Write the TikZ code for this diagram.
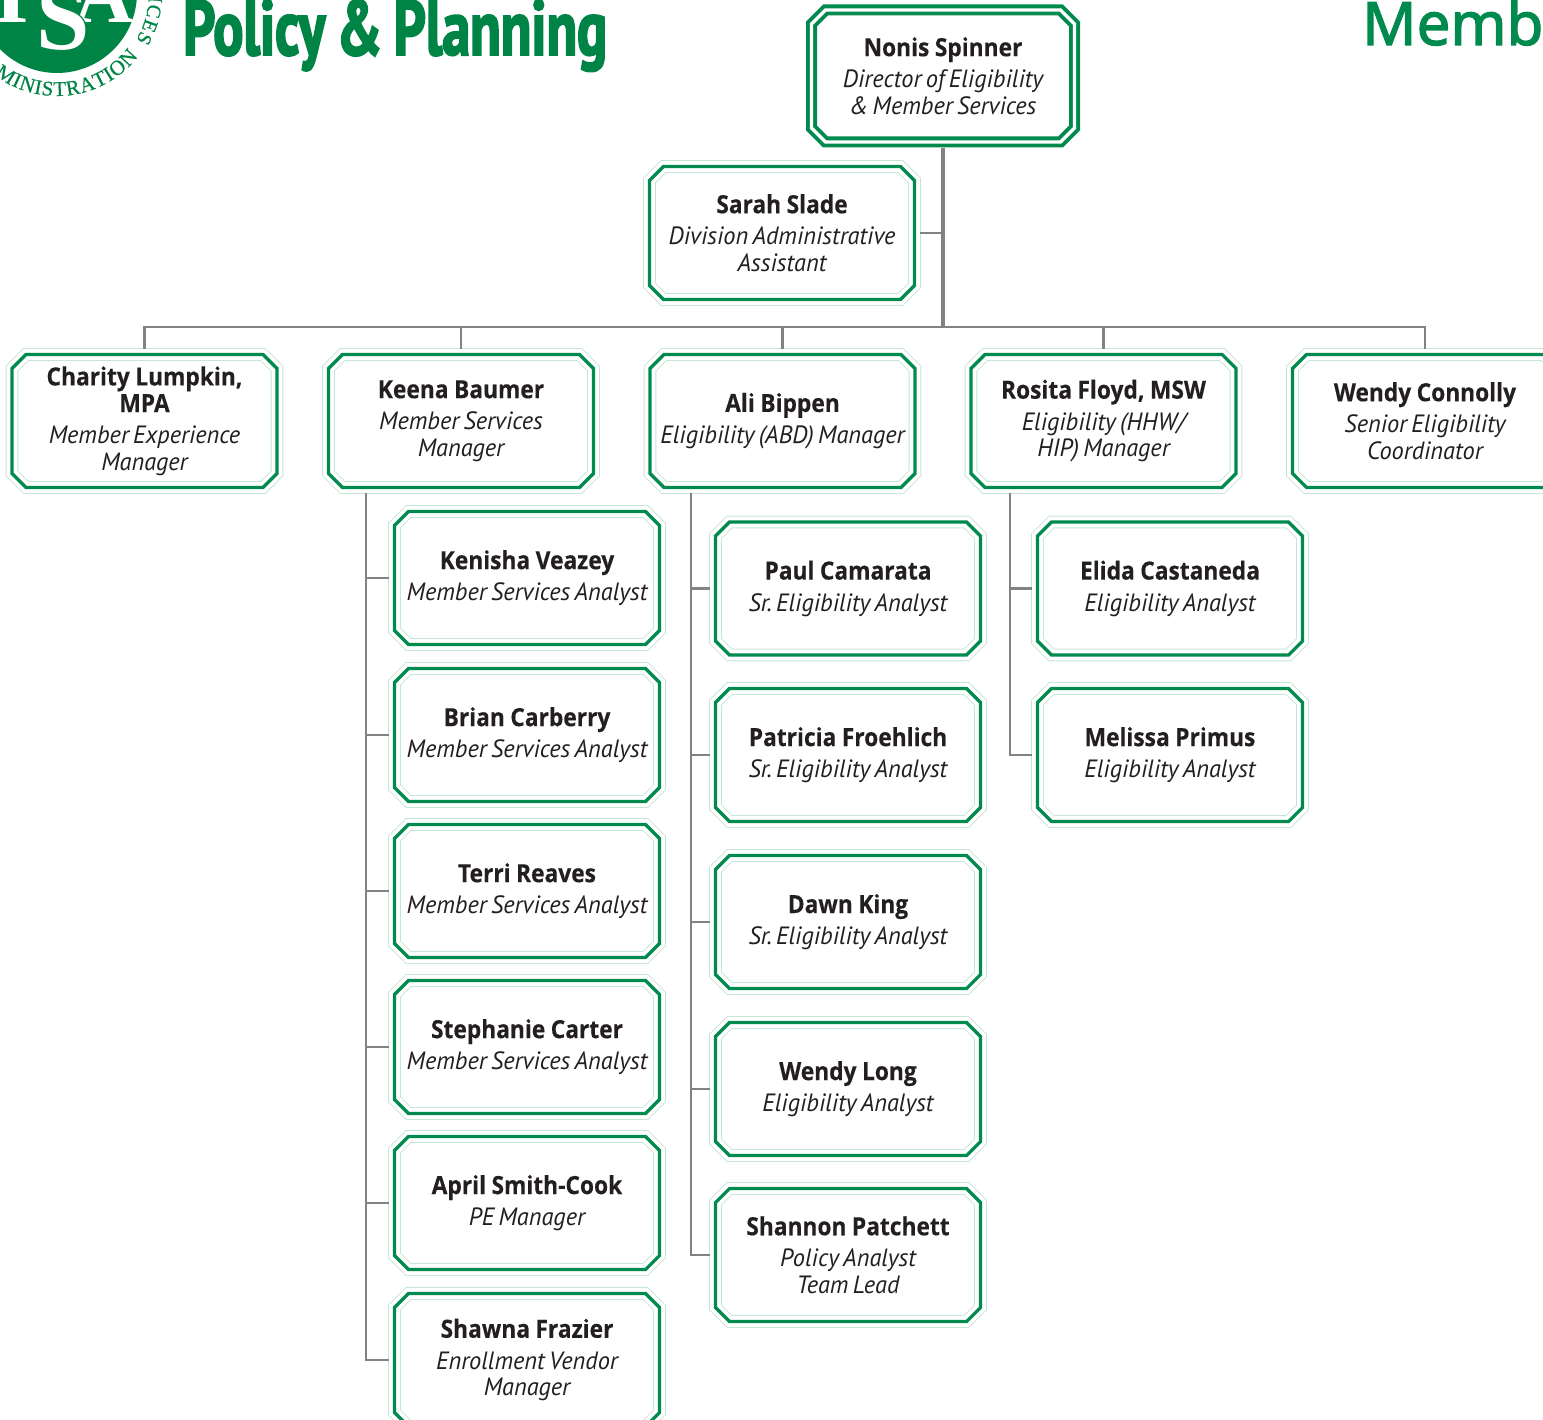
\documentclass[tikz,border=0pt]{standalone}
\usepackage{fontspec}
\usetikzlibrary{shapes.misc,decorations.text}
\setmainfont{PT Sans}[ItalicFeatures={FakeStretch=0.975},BoldFont={Open Sans Bold},BoldFeatures={FakeStretch=0.91,FakeBold=0.3}]
\newfontfamily\headfont[FakeStretch=0.72,FakeBold=2.4,WordSpace=0.8]{PT Sans Bold}
\newfontfamily\memfont[FakeBold=2]{Noto Sans}
\newfontfamily\sealfont{Liberation Serif}
\newfontfamily\sealhalo[FakeBold=5]{Liberation Serif}
\newfontfamily\sealring[FakeBold=0.5]{Liberation Serif}
\definecolor{hsagreen}{HTML}{008A4E}
\definecolor{headgreen}{HTML}{008445}
\definecolor{palegreen}{HTML}{C5E5D6}
\definecolor{linegray}{HTML}{808285}
\definecolor{inktext}{HTML}{231F20}
\frenchspacing
\tikzset{
  orgbox/.style={chamfered rectangle,chamfered rectangle xsep=7pt,chamfered rectangle ysep=7pt,
    chamfered rectangle corners={north west,north east,south west,south east},
    text width=250pt,minimum width=265pt,minimum height=133pt,inner sep=0pt,outer sep=5.5pt,align=center,
    text=inktext,font=\fontsize{25}{26.6}\selectfont\frenchspacing,
    preaction={fill=white},
    preaction={draw=palegreen,line width=12.6pt},
    preaction={draw=white,line width=10.8pt},
    draw=hsagreen,line width=3.2pt},
  topbox/.style={chamfered rectangle,chamfered rectangle xsep=7pt,chamfered rectangle ysep=7pt,
    chamfered rectangle corners={north west,north east,south west,south east},
    text width=248pt,minimum width=263pt,minimum height=132pt,inner sep=0pt,outer sep=6pt,align=center,
    text=inktext,font=\fontsize{25}{26.6}\selectfont\frenchspacing,
    preaction={fill=white},
    preaction={draw=hsagreen,line width=11pt},
    preaction={draw=white,line width=3.4pt},
    draw=none},
  link/.style={draw=linegray,line width=2.8pt},
  trunk/.style={draw=linegray,line width=3.6pt},
  sealletter/.style={text=white,inner sep=0pt,anchor=base},
}
\newcommand{\nb}[1]{\makebox[0pt]{\bfseries\spaceskip=0.22em\relax #1}}
\newcommand{\nm}[1]{\nb{#1}\\[5pt]}
\newcommand{\ti}[1]{\makebox[0pt]{\itshape\spaceskip=0.17em\relax #1}}
\begin{document}
\begin{tikzpicture}[x=1pt,y=-1pt]
\useasboundingbox (0,0) rectangle (1543,1420);
\clip (0,0) rectangle (1543,1420);
% seal
\fill[headgreen] (57,-7) circle[radius=80];
\node[sealletter,font=\sealfont\bfseries\fontsize{90}{90}\selectfont,anchor=base east] (sealh) at (28,23) {H};
\node[sealletter,font=\sealfont\bfseries\fontsize{82}{82}\selectfont,anchor=base] (seala) at (104,23) {A};
\node[sealletter,text=headgreen,font=\sealhalo\fontsize{100}{100}\selectfont,anchor=base] (sealsback) at (63,50) {S};
\node[sealletter,font=\sealfont\bfseries\fontsize{96}{96}\selectfont,anchor=base] (seals) at (63,50) {S};
\begin{scope}[x=1pt,y=1pt,shift={(57pt,7pt)}]
\path[decorate,decoration={text along path,text align=fit to path,text color=headgreen,
  text={|\sealring\fontsize{21}{21}\selectfont|ADMINISTRATION}}] (-145:103) arc (-145:-38:103);
\path[decorate,decoration={text along path,text align=fit to path,text color=headgreen,
  text={|\sealring\fontsize{20}{20}\selectfont|SERVICES}}] (33:92) arc (33:-31:92);
\end{scope}
% headings
\node[anchor=base west,inner sep=0pt,text=headgreen,font=\headfont\fontsize{78}{78}\selectfont] (policy) at (183,55) {Policy \& Planning};
\node[anchor=base west,inner sep=0pt,text=hsagreen,font=\memfont\fontsize{60}{60}\selectfont] (memb) at (1362,45) {Memb};
% boxes
\node[topbox] (nonis) at (943,76) {\nm{Nonis Spinner}\ti{Director of Eligibility}\\\ti{\& Member Services}};
\node[orgbox] (sarah) at (782,233) {\nm{Sarah Slade}\ti{Division Administrative}\\\ti{Assistant}};
\node[orgbox] (charity) at (144.5,421) {\nb{Charity Lumpkin,}\\\nm{MPA}\ti{Member Experience}\\\ti{Manager}};
\node[orgbox] (keena) at (461,421) {\nm{Keena Baumer}\ti{Member Services}\\\ti{Manager}};
\node[orgbox] (ali) at (782.5,421) {\nm{Ali Bippen}\ti{Eligibility (ABD) Manager}};
\node[orgbox] (rosita) at (1103.5,421) {\nm{Rosita Floyd, MSW}\ti{Eligibility (HHW/}\\\ti{HIP) Manager}};
\node[orgbox] (wendyc) at (1425,421) {\nm{Wendy Connolly}\ti{Senior Eligibility}\\\ti{Coordinator}};
\node[orgbox] (kenisha) at (527,578) {\nm{Kenisha Veazey}\ti{Member Services Analyst}};
\node[orgbox] (brian) at (527,735) {\nm{Brian Carberry}\ti{Member Services Analyst}};
\node[orgbox] (terri) at (527,891) {\nm{Terri Reaves}\ti{Member Services Analyst}};
\node[orgbox] (stephanie) at (527,1047) {\nm{Stephanie Carter}\ti{Member Services Analyst}};
\node[orgbox] (april) at (527,1203) {\nm{April Smith-Cook}\ti{PE Manager}};
\node[orgbox] (shawna) at (527,1360) {\nm{Shawna Frazier}\ti{Enrollment Vendor}\\\ti{Manager}};
\node[orgbox] (paul) at (848,588.5) {\nm{Paul Camarata}\ti{Sr. Eligibility Analyst}};
\node[orgbox] (patricia) at (848,755) {\nm{Patricia Froehlich}\ti{Sr. Eligibility Analyst}};
\node[orgbox] (dawn) at (848,922) {\nm{Dawn King}\ti{Sr. Eligibility Analyst}};
\node[orgbox] (wendyl) at (848,1089) {\nm{Wendy Long}\ti{Eligibility Analyst}};
\node[orgbox] (shannon) at (848,1255) {\nm{Shannon Patchett}\ti{Policy Analyst}\\\ti{Team Lead}};
\node[orgbox] (elida) at (1170,588.5) {\nm{Elida Castaneda}\ti{Eligibility Analyst}};
\node[orgbox] (melissa) at (1170,755) {\nm{Melissa Primus}\ti{Eligibility Analyst}};
% connectors
\coordinate (bus) at (943,327);
\path[trunk] (nonis.south) -- (bus);
\draw[link] (sarah.east) -- (sarah.east -| bus);
\draw[link] (charity.north) |- (wendyc.north |- bus) -- (wendyc.north);
\foreach \n in {keena,ali,rosita} \draw[link] (\n.north) -- (\n.north |- bus);
\coordinate (spinek) at (366,493);
\coordinate (spinea) at (691,493);
\coordinate (spiner) at (1010,493);
\draw[link] (spinek) |- (shawna.west);
\foreach \n in {kenisha,brian,terri,stephanie,april} \draw[link] (\n.west) -- (\n.west -| spinek);
\draw[link] (spinea) |- (shannon.west);
\foreach \n in {paul,patricia,dawn,wendyl} \draw[link] (\n.west) -- (\n.west -| spinea);
\draw[link] (spiner) |- (melissa.west);
\draw[link] (elida.west) -- (elida.west -| spiner);
\end{tikzpicture}
\end{document}
